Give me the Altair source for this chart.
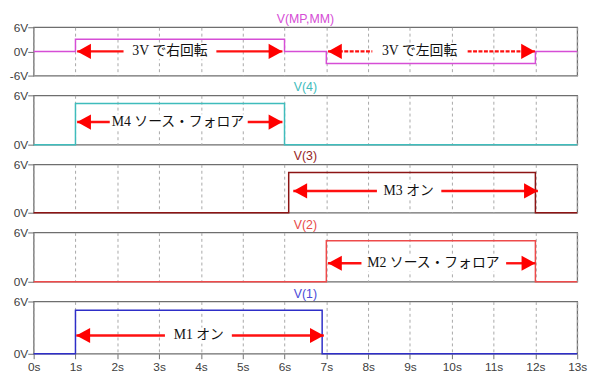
import altair as alt
import pandas as pd

# ---------------- data ----------------
panel_titles = ["V(MP,MM)", "V(4)", "V(3)", "V(2)", "V(1)"]
title_colors = ["#d64ed6", "#3fbcbc", "#962424", "#e84a4a", "#4a4ad8"]
trace_colors = ["#d64ed6", "#3fbcbc", "#8c1414", "#ee4a4a", "#2e2ec8"]
y_min = [-6, 0, 0, 0, 0]
y_max = [6, 6, 6, 6, 6]
y_ticks = [[-6, 0, 6], [0, 6], [0, 6], [0, 6], [0, 6]]
time_ticks = list(range(0, 14))

# step waveforms: time (s) and level (V) held until the next time
wave_t = [
    [0, 1, 6, 7, 12, 13],
    [0, 1, 6, 13],
    [0, 6.1, 12, 13],
    [0, 7, 12, 13],
    [0, 1, 6.9, 13],
]
wave_v = [
    [0, 3, 0, -3, 0, 0],
    [0, 5, 0, 0],
    [0, 5, 0, 0],
    [0, 5, 0, 0],
    [0, 5, 0, 0],
]

# annotations (double arrows with a label)
ann_panel = [0, 0, 1, 2, 3, 4]
ann_label = ["3V で右回転", "3V で左回転", "M4 ソース・フォロア", "M3 オン",
             "M2 ソース・フォロア", "M1 オン"]
ann_y = [0, 0, 2.75, 2.7, 2.25, 2.1]
ann_x_left = [1.04, 7.04, 1.04, 6.21, 7.04, 1.02]
ann_x_right = [5.95, 11.99, 5.95, 12.06, 12.0, 6.94]
ann_gap_left = [2.15, 8.1, 1.82, 8.21, 7.84, 3.14]
ann_gap_right = [4.37, 10.38, 5.12, 9.75, 11.3, 4.74]
ann_text_x = [3.26, 9.23, 3.45, 8.97, 9.56, 3.95]
ann_dashed = [False, True, False, False, False, False]

# ---------------- layout ----------------
W = 551
PANEL_H = [49, 50, 49, 50, 53]
LEFT_HEAD = "M0,0L1,-0.55L1,0.55Z"
RIGHT_HEAD = "M0,0L-1,-0.55L-1,0.55Z"
JP_FONT = "Liberation Serif, Noto Sans CJK JP"


def panel(i):
    bottom = i == len(panel_titles) - 1
    xs = alt.Scale(domain=[0, 13], nice=False, zero=False)
    ys = alt.Scale(domain=[y_min[i], y_max[i]], nice=False, zero=False)
    xaxis = alt.Axis(values=time_ticks, labelExpr="datum.value + 's'", title=None,
                     grid=True, labels=bottom, ticks=bottom, domain=False,
                     tickSize=5, labelPadding=3, labelFlush=False)
    yaxis = alt.Axis(values=y_ticks[i], labelExpr="datum.value + 'V'", title=None,
                     grid=False, domain=False, tickSize=6, labelPadding=0)

    def X(f):
        return alt.X(f, type="quantitative", scale=xs, axis=xaxis)

    def Y(f):
        return alt.Y(f, type="quantitative", scale=ys, axis=yaxis)

    wave = pd.DataFrame({"t": wave_t[i], "v": wave_v[i]})
    idx = [k for k, p in enumerate(ann_panel) if p == i]
    ann = pd.DataFrame({
        "label": [ann_label[k] for k in idx],
        "y": [ann_y[k] for k in idx],
        "xl": [ann_x_left[k] for k in idx],
        "xr": [ann_x_right[k] for k in idx],
        "gl": [ann_gap_left[k] for k in idx],
        "gr": [ann_gap_right[k] for k in idx],
        "tx": [ann_text_x[k] for k in idx],
        "dashed": [ann_dashed[k] for k in idx],
    })
    segs = []
    for _, r in ann.iterrows():
        segs.append({"a": r["xl"], "b": r["gl"], "y": r["y"], "dashed": r["dashed"]})
        segs.append({"a": r["gr"], "b": r["xr"], "y": r["y"], "dashed": r["dashed"]})
    segs = pd.DataFrame(segs)

    layers = []
    # white box behind the labels
    layers.append(alt.Chart(ann).mark_rule(color="white", strokeWidth=16, strokeCap="butt")
                  .encode(x=X("gl"), x2="gr", y=Y("y")))
    # trace
    layers.append(alt.Chart(wave).mark_line(interpolate="step-after", color=trace_colors[i],
                                            strokeWidth=1.5)
                  .encode(x=X("t"), y=Y("v")))
    solid = segs[~segs["dashed"]]
    dashed = segs[segs["dashed"]]
    if len(solid):
        layers.append(alt.Chart(solid[["a", "b", "y"]]).mark_rule(color="#ff1010", strokeWidth=2.4)
                      .encode(x=X("a"), x2="b", y=Y("y")))
    if len(dashed):
        layers.append(alt.Chart(dashed[["a", "b", "y"]]).mark_rule(color="#ff1010", strokeWidth=2.4,
                                                                  strokeDash=[4, 1.5])
                      .encode(x=X("a"), x2="b", y=Y("y")))
    annd = ann.drop(columns=["dashed"])
    layers.append(alt.Chart(annd).mark_point(shape=LEFT_HEAD, size=784, filled=True,
                                             color="#ff0000", opacity=1, strokeWidth=0)
                  .encode(x=X("xl"), y=Y("y")))
    layers.append(alt.Chart(annd).mark_point(shape=RIGHT_HEAD, size=784, filled=True,
                                             color="#ff0000", opacity=1, strokeWidth=0)
                  .encode(x=X("xr"), y=Y("y")))
    layers.append(alt.Chart(annd).mark_text(font=JP_FONT, fontSize=14, color="#111111",
                                            align="center", baseline="middle")
                  .encode(x=X("tx"), y=Y("y"), text="label:N"))
    # panel title
    layers.append(alt.Chart(pd.DataFrame({"name": [panel_titles[i]]}))
                  .mark_text(font="Liberation Sans", fontSize=12.5, color=title_colors[i],
                             align="center", baseline="middle")
                  .encode(x=alt.value(W / 2), y=alt.value(-8), text="name:N"))
    return alt.layer(*layers).properties(width=W, height=PANEL_H[i])


chart = (
    alt.vconcat(*[panel(i) for i in range(len(panel_titles))], spacing=20, bounds="flush")
    .properties(padding={"left": 0, "top": 2, "right": 4, "bottom": 0}, background="white")
    .configure_view(stroke="#6e6e6e", strokeWidth=1.3)
    .configure_axis(labelFont="Liberation Sans", labelFontSize=12, labelColor="#404040",
                    tickColor="#707070", gridColor="#a8a8a8", gridDash=[3, 3], gridWidth=1)
)

chart.save("out.html", embed_options={"renderer": "svg", "actions": False})
